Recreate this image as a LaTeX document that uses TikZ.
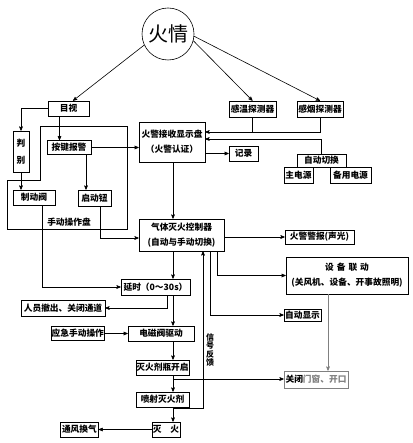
\documentclass[tikz,border=0pt]{standalone}
\usepackage{fontspec}
\newfontfamily\cjk{Noto Sans CJK SC}
\usetikzlibrary{arrows,positioning}

\begin{document}
\begin{tikzpicture}[x=1pt,y=-1pt,->,>=stealth',semithick,
 font=\cjk\bfseries\fontsize{8.7}{10}\selectfont]
 \tikzstyle{box}=[draw,rectangle,inner sep=0.5pt,align=center]
 \tikzstyle{tall}=[font=\cjk\bfseries\fontsize{8.7}{15}\selectfont]
 \useasboundingbox (0,0) rectangle (412,443);
 \coordinate (sp) at (173,0);
 \coordinate (fb) at (173,408);
 \coordinate (jn) at (173,379);

 \node[circle,draw,minimum size=52pt,inner sep=0pt,
  font=\cjk\fontsize{20}{20}\selectfont] (fire) at (168,34) {火情};
 \node[box,minimum width=41pt,minimum height=15pt]  (muShi)     at (68.5,108.5) {目视};
 \node[box,minimum width=47pt,minimum height=16pt]  (ganWen)    at (252.5,109)  {感温探测器};
 \node[box,minimum width=46pt,minimum height=16pt]  (ganYan)    at (320,109)    {感烟探测器};
 \node[box,tall,minimum width=16pt,minimum height=41pt,
  font=\cjk\bfseries\fontsize{8.7}{17}\selectfont] (panBie) at (21,151.5) {判\\别};
 \node[box,minimum width=44pt,minimum height=14pt]  (anJian)    at (69,147.5)   {按键报警};
 \node[box,tall,minimum width=66pt,minimum height=40pt] (xianShi) at (172,142) {火警接收显示盘\\（火警认证）};
 \node[box,minimum width=29pt,minimum height=15pt]  (jiLu)      at (243.5,153.5) {记录};
 \node[box,minimum width=49pt,minimum height=13pt]  (qieHuan)   at (321.5,160.5) {自动切换};
 \node[box,minimum width=29pt,minimum height=16pt]  (zhuDian)   at (298.5,175)  {主电源};
 \node[box,minimum width=41pt,minimum height=16pt]  (beiYong)   at (350.5,175)  {备用电源};
 \node[box,minimum width=42pt,minimum height=15pt]  (zhiDong)   at (34,197.5)   {制动阀};
 \node[box,minimum width=33pt,minimum height=16pt]  (qiDong)    at (94.5,198)   {启动钮};
 \node                                              (panLabel)  at (69,222)     {手动操作盘};
 \node[box,tall,minimum width=85pt,minimum height=32pt] (kongZhi) at (181.5,235) {气体灭火控制器\\(自动与手动切换)};
 \node[box,minimum width=69pt,minimum height=14pt]  (jingBao)   at (319.5,237)  {火警警报(声光)};
 \node[box,tall,minimum width=122pt,minimum height=37pt] (lianDong) at (347,275.5)
  {设\hspace{3pt}备\hspace{3pt}联\hspace{3pt}动\\(关风机、设备、开事故照明)};
 \node[box,minimum width=69pt,minimum height=16pt]  (yanShi)    at (155.5,287)  {延时（0～30s）};
 \node[box,minimum width=84pt,minimum height=16pt]  (cheChu)    at (63,308)     {人员撤出、关闭通道};
 \node[box,minimum width=37pt,minimum height=12pt]  (zdXianShi) at (302.5,315)  {自动显示};
 \node[box,minimum width=66pt,minimum height=15pt]  (quDong)    at (161,333.5)  {电磁阀驱动};
 \node[box,minimum width=53pt,minimum height=14pt]  (yingJi)    [left=23pt of quDong] {应急手动操作};
 \node[box,minimum width=53pt,minimum height=15pt]  (kaiQi)     at (162.5,367.5) {灭火剂瓶开启};
 \node[box,minimum width=64pt,minimum height=17pt,draw=gray] (menChuang) at (316,379.5) {关闭\textcolor{gray}{门窗、开口}};
 \node[box,minimum width=53pt,minimum height=15pt]  (penShe)    at (162.5,399.5) {喷射灭火剂};
 \node[box,minimum width=28pt,minimum height=15pt]  (mieHuo)    at (166,429.5)  {灭　火};
 \node[box,minimum width=38pt,minimum height=15pt]  (tongFeng)  [left=53pt of mieHuo] {通风换气};
 \node[align=center,font=\cjk\bfseries\fontsize{8}{8.5}\selectfont] (fanKui) at (210,350) {信\\号\\反\\馈};

 \draw[-] (40,126) -- (127,126) -- (127,229) -- (7,229) -- (7,180) -- (40,180) -- cycle;

 \path (fire.205) edge (muShi.60);
 \path (fire.345) edge (ganWen.north);
 \path (fire.355) edge (ganYan.north);
 \draw ([xshift=-9pt]muShi.south) -- ([xshift=-9pt]muShi.south |- anJian.north);
 \draw (muShi.west) -| (panBie.north);
 \draw (panBie.south) -- (panBie.south |- zhiDong.north);
 \draw (anJian.east) -- (anJian.east -| xianShi.west);
 \draw ([xshift=17pt]anJian.south) -- ([xshift=17pt]anJian.south |- qiDong.north);
 \draw ([xshift=5.5pt]qiDong.south) |- ([yshift=-3pt]kongZhi.west);
 \draw ([xshift=8pt]zhiDong.south) |- (yanShi.west);
 \draw[-] (ganWen.south) -- ([yshift=10pt]xianShi.east -| ganWen.south);
 \draw (ganYan.south) |- ([yshift=10pt]xianShi.east);
 \draw (qieHuan.north) |- ([yshift=3pt]xianShi.east);
 \draw (xianShi.east |- jiLu.west) -- (jiLu.west);
 \draw (xianShi.south -| sp) -- (kongZhi.north -| sp);
 \draw (kongZhi.east |- jingBao.west) -- (jingBao.west);
 \draw ([xshift=35.5pt]kongZhi.south) |- (lianDong.west);
 \draw ([xshift=28.5pt]kongZhi.south) |- (zdXianShi.west);
 \draw (fb) -| ([xshift=21.5pt]kongZhi.south);
 \draw (kongZhi.south -| sp) -- (yanShi.north -| sp);
 \draw ([xshift=11.5pt]yanShi.south) |- (cheChu.east);
 \draw (yanShi.south -| sp) -- (quDong.north -| sp);
 \draw (yingJi) -- (quDong);
 \draw (quDong.south -| sp) -- (kaiQi.north -| sp);
 \draw (kaiQi.south -| sp) -- (penShe.north -| sp);
 \draw (jn) -- (jn -| menChuang.west);
 \draw (penShe.south -| sp) -- (mieHuo.north -| sp);
 \draw (mieHuo) -- (tongFeng);
 \draw[gray] ([xshift=-19pt]lianDong.south) -- ([xshift=-19pt]lianDong.south |- menChuang.north);
\end{tikzpicture}
\end{document}
